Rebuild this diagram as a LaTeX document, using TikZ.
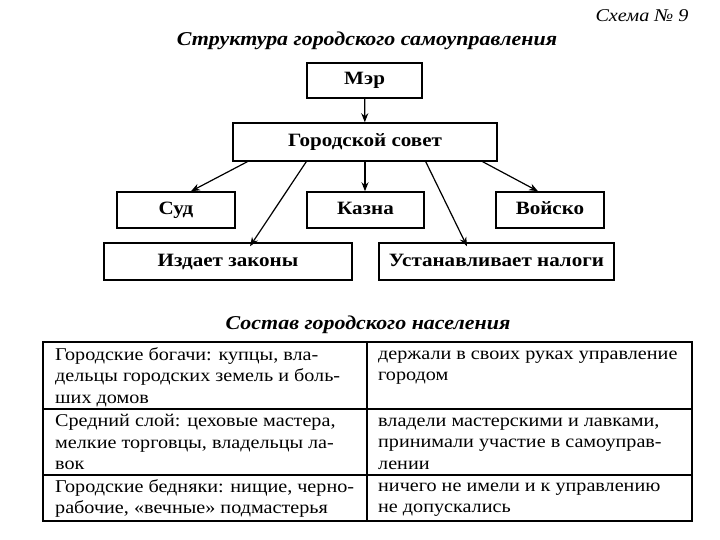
\documentclass[tikz,border=0pt]{standalone}
\usepackage{fontspec}
\setmainfont{Liberation Serif}[FakeStretch=1.12]
\usetikzlibrary{arrows.meta}
\begin{document}
\begin{tikzpicture}[x=1pt,y=-1pt,
  box/.style={draw,line width=1.5pt,rectangle,inner sep=0pt,text height=13pt,text depth=4pt,font=\fontsize{18.8}{22}\selectfont\bfseries},
  arr/.style={line width=1.2pt,-{Stealth[length=9pt,width=7pt]}},
  cell/.style={anchor=north west,inner sep=0pt,align=left,font=\fontsize{18}{21.7}\selectfont},
  ttl/.style={font=\fontsize{19.6}{22}\selectfont\bfseries\itshape},
  tline/.style={line width=1.5pt}]
\useasboundingbox[fill=white] (0,0) rectangle (720,540);
\node[font=\fontsize{18}{20}\selectfont\itshape] (schema) at (642,16) {Схема № 9};
\node[ttl] (title1) at (367,41) {Структура городского самоуправления};
\node[box,minimum width=115pt,minimum height=35pt] (mayor) at (364.5,80.5) {Мэр};
\node[box,minimum width=264pt,minimum height=38pt] (council) at (365,142) {Городской совет};
\node[box,minimum width=118pt,minimum height=36pt] (sud) at (176,210) {Суд};
\node[box,minimum width=117pt,minimum height=36pt] (kazna) at (365.5,210) {Казна};
\node[box,minimum width=108pt,minimum height=36pt] (voisko) at (550,210) {Войско};
\node[box,minimum width=248pt,minimum height=37pt] (izdaet) at (228,261.5) {Издает законы};
\node[box,minimum width=235pt,minimum height=37pt] (ustan) at (496.5,261.5) {Устанавливает налоги};
\draw[arr] (mayor) -- (council);
\draw[arr] ([xshift=15pt]council.south west) -- ([xshift=15pt]sud.north);
\draw[arr] ([xshift=74pt]council.south west) -- ([xshift=22pt,yshift=-4pt]izdaet.north);
\draw[arr] (council.south) -- (council.south |- kazna.north);
\draw[arr] ([xshift=-72pt]council.south east) -- ([xshift=-29.5pt,yshift=-4pt]ustan.north);
\draw[arr] ([xshift=-15pt]council.south east) -- ([xshift=-12pt]voisko.north);
\node[ttl] (title2) at (368,325) {Состав городского населения};
\draw[tline] (43,342) rectangle (692,521);
\draw[tline] (367,342) -- (367,521);
\draw[tline] (43,409) -- (692,409);
\draw[tline] (43,475) -- (692,475);
\node[cell] (r1a) at (55,347) {\rule{0pt}{12pt}Городские богачи: купцы, вла-\\дельцы городских земель и боль-\\ших домов};
\node[cell] (r1b) at (378,347) {\rule{0pt}{12pt}держали в своих руках управление\\городом};
\node[cell] (r2a) at (55,414) {\rule{0pt}{12pt}Средний слой: цеховые мастера,\\мелкие торговцы, владельцы ла-\\вок};
\node[cell] (r2b) at (378,414) {\rule{0pt}{12pt}владели мастерскими и лавками,\\принимали участие в самоуправ-\\лении};
\node[cell] (r3a) at (55,479) {\rule{0pt}{12pt}Городские бедняки: нищие, черно-\\рабочие, «вечные» подмастерья};
\node[cell] (r3b) at (378,479) {\rule{0pt}{12pt}ничего не имели и к управлению\\не допускались};
\end{tikzpicture}
\end{document}
